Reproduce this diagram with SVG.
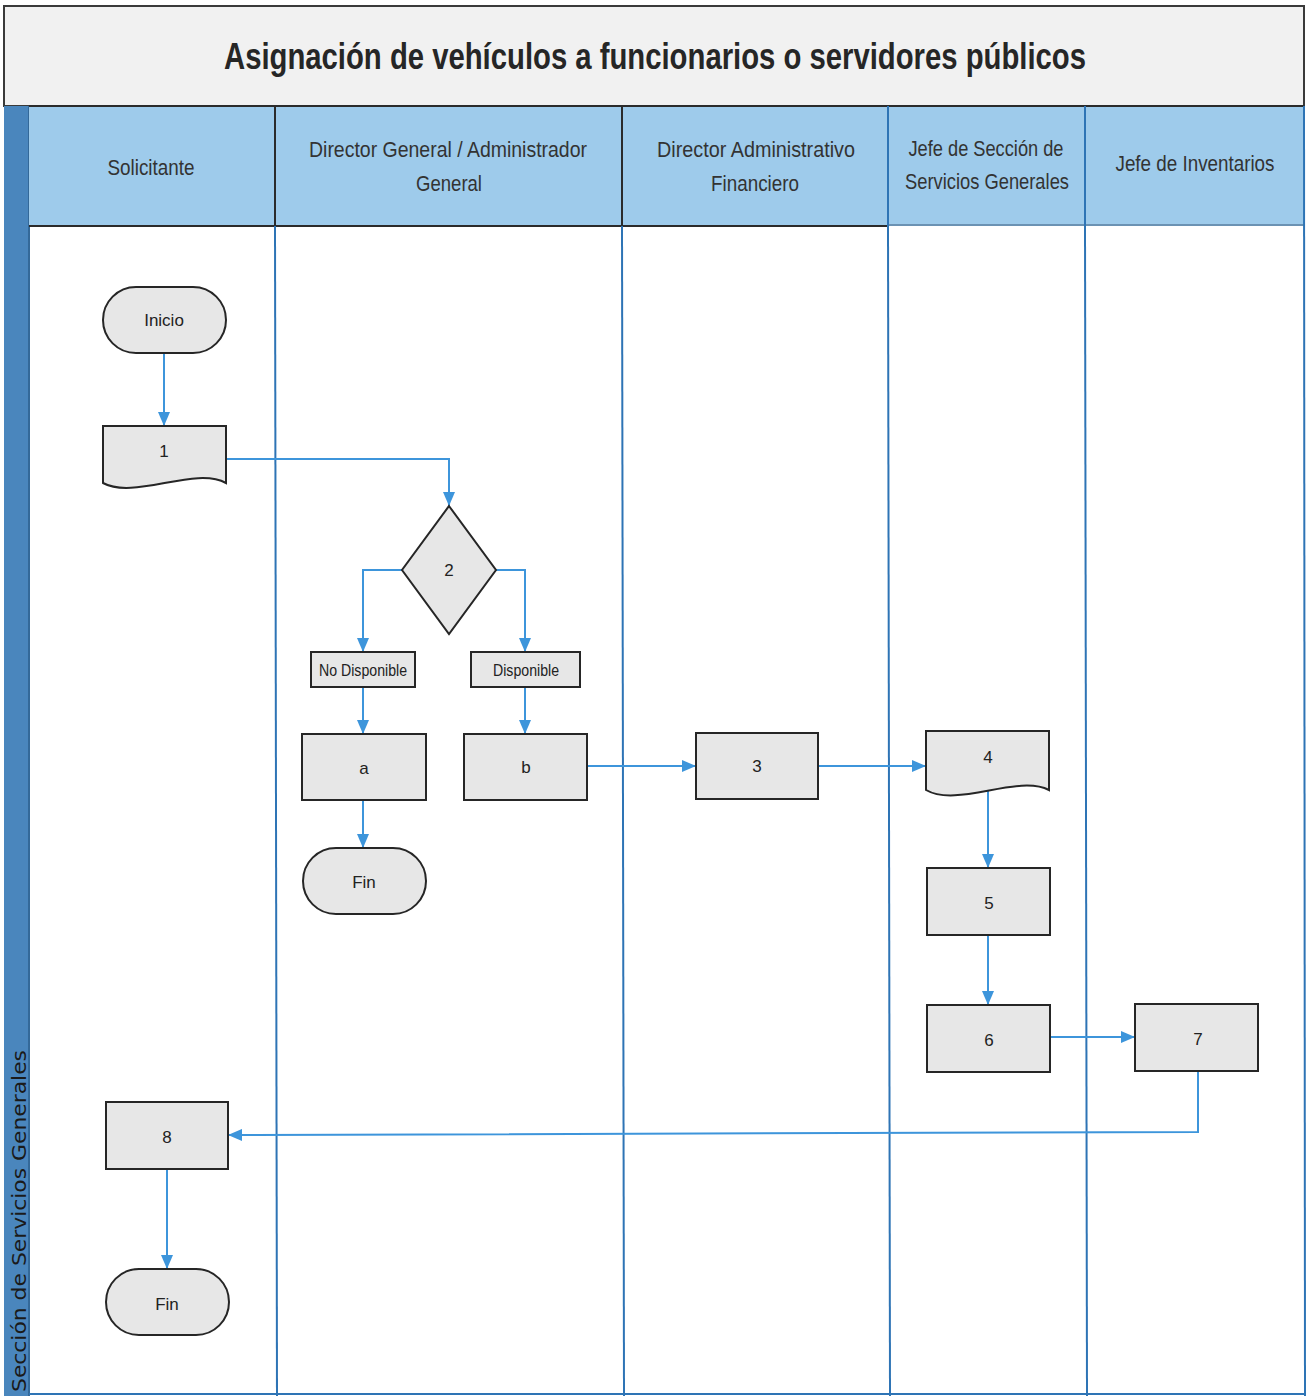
<svg xmlns="http://www.w3.org/2000/svg" width="1308" height="1396" viewBox="0 0 1308 1396">
  <defs>
    <marker id="arrow" viewBox="0 0 14 12" refX="14" refY="6" markerWidth="14" markerHeight="12" markerUnits="userSpaceOnUse" orient="auto">
      <path d="M0,0 L14,6 L0,12 Z" fill="#3d95db"/>
    </marker>
    <style>
      .node { fill: #e7e7e7; stroke: #262626; stroke-width: 2; }
      .lbl { font-family: "Liberation Sans", Arial, sans-serif; font-size: 17px; fill: #222; text-anchor: middle; dominant-baseline: central; }
      .hdr { font-family: "Liberation Sans", Arial, sans-serif; font-size: 22px; fill: #333; text-anchor: middle; }
      .conn { fill: none; stroke: #3d95db; stroke-width: 2; marker-end: url(#arrow); }
      .lane { stroke: #2e74b5; stroke-width: 2; }
    </style>
  </defs>

  <!-- page background -->
  <rect x="0" y="0" width="1308" height="1396" fill="#ffffff"/>

  <!-- title band -->
  <g id="title">
    <rect x="4" y="6" width="1300" height="100" fill="#f1f1f1" stroke="#3a3a3a" stroke-width="2"/>
    <text x="655" y="69" font-family="Liberation Sans, Arial, sans-serif" font-size="36" font-weight="bold" fill="#262626" text-anchor="middle" textLength="862" lengthAdjust="spacingAndGlyphs">Asignación de vehículos a funcionarios o servidores públicos</text>
  </g>

  <!-- pool label strip -->
  <g id="pool">
    <rect x="4" y="106" width="26" height="1290" fill="#4a86bd"/>
    <line x1="29" y1="106" x2="29" y2="1396" stroke="#2e5f8e" stroke-width="1.5"/>
    <text transform="translate(26,1392) rotate(-90)" font-family="DejaVu Sans, Verdana, sans-serif" font-size="19" fill="#1a1a1a" textLength="342" lengthAdjust="spacingAndGlyphs">Sección de Servicios Generales</text>
  </g>

  <!-- lane header row -->
  <g id="lane-headers">
    <rect x="29" y="106" width="1275" height="120" fill="#9ecbeb"/>
    <line x1="29" y1="106" x2="1304" y2="106" stroke="#2b2b2b" stroke-width="2"/>
    <line x1="29" y1="226" x2="888" y2="226" stroke="#2b2b2b" stroke-width="2"/>
    <line x1="888" y1="225" x2="1304" y2="225" stroke="#5a7fa0" stroke-width="1.5"/>
    <line x1="275" y1="106" x2="275" y2="226" stroke="#2b2b2b" stroke-width="2"/>
    <line x1="622" y1="106" x2="622" y2="226" stroke="#2b2b2b" stroke-width="2"/>
    <line x1="888" y1="106" x2="888" y2="226" stroke="#2e74b5" stroke-width="2"/>
    <line x1="1085" y1="106" x2="1085" y2="226" stroke="#2e74b5" stroke-width="2"/>
    <text class="hdr" x="151" y="175" textLength="87" lengthAdjust="spacingAndGlyphs">Solicitante</text>
    <text class="hdr" x="448" y="157" textLength="278" lengthAdjust="spacingAndGlyphs">Director General / Administrador</text>
    <text class="hdr" x="449" y="191" textLength="66" lengthAdjust="spacingAndGlyphs">General</text>
    <text class="hdr" x="756" y="157" textLength="198" lengthAdjust="spacingAndGlyphs">Director Administrativo</text>
    <text class="hdr" x="755" y="191" textLength="88" lengthAdjust="spacingAndGlyphs">Financiero</text>
    <text class="hdr" x="986" y="156" textLength="155" lengthAdjust="spacingAndGlyphs">Jefe de Sección de</text>
    <text class="hdr" x="987" y="189" textLength="164" lengthAdjust="spacingAndGlyphs">Servicios Generales</text>
    <text class="hdr" x="1195" y="171" textLength="159" lengthAdjust="spacingAndGlyphs">Jefe de Inventarios</text>
  </g>

  <!-- lane separators in the body -->
  <g id="lanes">
    <line class="lane" x1="275" y1="226" x2="277" y2="1396"/>
    <line class="lane" x1="622" y1="226" x2="624" y2="1396"/>
    <line class="lane" x1="888" y1="226" x2="890" y2="1396"/>
    <line class="lane" x1="1085" y1="226" x2="1087" y2="1396"/>
    <line class="lane" x1="1304" y1="106" x2="1305" y2="1396"/>
    <line class="lane" x1="29" y1="1394" x2="1305" y2="1394"/>
  </g>

  <!-- connectors -->
  <g id="connectors">
    <path class="conn" d="M164,353 V426"/>
    <path class="conn" d="M226,459 H449 V506"/>
    <path class="conn" d="M402,570 H363 V652"/>
    <path class="conn" d="M496,570 H525 V652"/>
    <path class="conn" d="M363,687 V734"/>
    <path class="conn" d="M525,687 V734"/>
    <path class="conn" d="M363,800 V848"/>
    <path class="conn" d="M587,766 H696"/>
    <path class="conn" d="M818,766 H926"/>
    <path class="conn" d="M988,790 V868"/>
    <path class="conn" d="M988,935 V1005"/>
    <path class="conn" d="M1050,1037 H1135"/>
    <path class="conn" d="M1198,1071 V1132 L228,1135"/>
    <path class="conn" d="M167,1169 V1269"/>
  </g>

  <!-- nodes -->
  <g id="n-inicio">
    <rect class="node" x="103" y="287" width="123" height="66" rx="33" ry="33"/>
    <text class="lbl" x="164" y="320">Inicio</text>
  </g>
  <g id="n-1">
    <path class="node" d="M103,426 H226 V483 C195,466 134,500 103,483 Z"/>
    <text class="lbl" x="164" y="451">1</text>
  </g>
  <g id="n-2">
    <path class="node" d="M449,506 L496,570 L449,634 L402,570 Z"/>
    <text class="lbl" x="449" y="570">2</text>
  </g>
  <g id="n-no-disponible">
    <rect class="node" x="311" y="652" width="104" height="35"/>
    <text class="lbl" x="363" y="670" textLength="88" lengthAdjust="spacingAndGlyphs">No Disponible</text>
  </g>
  <g id="n-disponible">
    <rect class="node" x="471" y="652" width="109" height="35"/>
    <text class="lbl" x="526" y="670" textLength="66" lengthAdjust="spacingAndGlyphs">Disponible</text>
  </g>
  <g id="n-a">
    <rect class="node" x="302" y="734" width="124" height="66"/>
    <text class="lbl" x="364" y="768">a</text>
  </g>
  <g id="n-b">
    <rect class="node" x="464" y="734" width="123" height="66"/>
    <text class="lbl" x="526" y="767">b</text>
  </g>
  <g id="n-fin1">
    <rect class="node" x="303" y="848" width="123" height="66" rx="33" ry="33"/>
    <text class="lbl" x="364" y="882">Fin</text>
  </g>
  <g id="n-3">
    <rect class="node" x="696" y="733" width="122" height="66"/>
    <text class="lbl" x="757" y="766">3</text>
  </g>
  <g id="n-4">
    <path class="node" d="M926,731 H1049 V790 C1018,774 957,808 926,790 Z"/>
    <text class="lbl" x="988" y="757">4</text>
  </g>
  <g id="n-5">
    <rect class="node" x="927" y="868" width="123" height="67"/>
    <text class="lbl" x="989" y="903">5</text>
  </g>
  <g id="n-6">
    <rect class="node" x="927" y="1005" width="123" height="67"/>
    <text class="lbl" x="989" y="1040">6</text>
  </g>
  <g id="n-7">
    <rect class="node" x="1135" y="1004" width="123" height="67"/>
    <text class="lbl" x="1198" y="1039">7</text>
  </g>
  <g id="n-8">
    <rect class="node" x="106" y="1102" width="122" height="67"/>
    <text class="lbl" x="167" y="1137">8</text>
  </g>
  <g id="n-fin2">
    <rect class="node" x="106" y="1269" width="123" height="66" rx="33" ry="33"/>
    <text class="lbl" x="167" y="1304">Fin</text>
  </g>
</svg>
